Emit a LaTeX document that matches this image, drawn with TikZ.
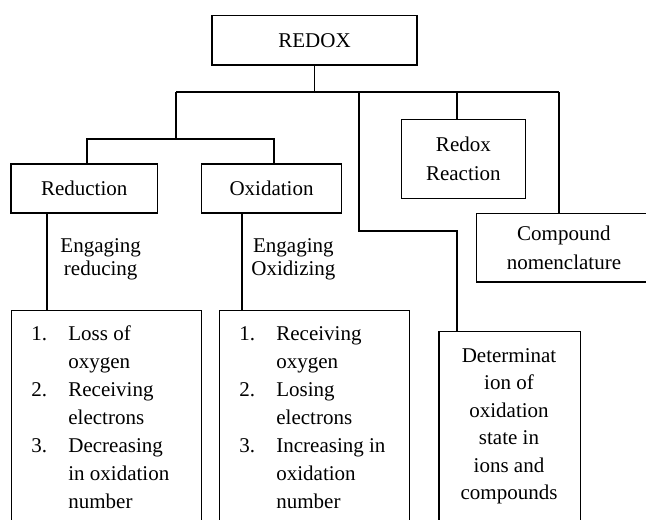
\documentclass[tikz,border=0pt]{standalone}
\usepackage{fontspec}
\setmainfont{Liberation Serif}
\usetikzlibrary{positioning}
\begin{document}
\begin{tikzpicture}[
    x=0.5pt, y=-0.5pt,
    box/.style={rectangle, draw, line width=0.6pt, align=center, inner sep=0pt, font=\fontsize{10.5}{14.3}\selectfont},
    frame/.style={rectangle, draw, line width=0.6pt, inner sep=0pt, anchor=north west},
    listtext/.style={inner sep=0pt, anchor=north west, font=\fontsize{10.5}{14}\selectfont},
    tag/.style={inner sep=0pt, align=center, font=\fontsize{10.5}{11.5}\selectfont},
    link/.style={line width=0.8pt}
]
    \useasboundingbox (0,0) rectangle (646,519);

    \node [box, minimum width=102.5pt, minimum height=24.7pt] (redox) at (314.5,40.3) {REDOX};
    \node [box, minimum width=73.2pt, minimum height=24.5pt] (red) at (84.2,188.5) {Reduction};
    \node [box, minimum width=69.8pt, minimum height=24.5pt] (oxi) at (271.5,188.5) {Oxidation};
    \node [box, minimum width=61.7pt, minimum height=39.7pt] (rxn) at (463.4,159) {Redox\\Reaction};
    \node [box, minimum width=87.2pt, minimum height=34.3pt] (comp) at (563.9,247.7) {Compound\\nomenclature};

    \node [tag] (redtag) at (100.7,259.5) {Engaging\\reducing};
    \node [tag] (oxitag) at (293.4,259.5) {Engaging\\Oxidizing};

    \node [frame, minimum width=95pt, minimum height=110pt] (redlist) at (11,309.5) {};
    \node [frame, minimum width=95pt, minimum height=110pt] (oxilist) at (219,310) {};
    \node [frame, minimum width=70.7pt, minimum height=100pt] (detbox) at (438.3,331) {};

    \node [listtext] (redtext) at (31,320.4) {\begin{tabular}{@{}p{18.5pt}@{}l@{}}
        1. & Loss of\\ & oxygen\\
        2. & Receiving\\ & electrons\\
        3. & Decreasing\\ & in oxidation\\ & number
    \end{tabular}};
    \node [listtext] (oxitext) at (239,320.4) {\begin{tabular}{@{}p{18.5pt}@{}l@{}}
        1. & Receiving\\ & oxygen\\
        2. & Losing\\ & electrons\\
        3. & Increasing in\\ & oxidation\\ & number
    \end{tabular}};
    \node [listtext, anchor=north, font=\fontsize{10.5}{13.75}\selectfont] (dettext) at (509,342.8) {\begin{tabular}{@{}c@{}}
        Determinat\\ ion of\\ oxidation\\ state in\\ ions and\\ compounds
    \end{tabular}};

    \coordinate (b1) at (176,92);
    \coordinate (b2) at (359,92);
    \coordinate (b3) at (457,92);
    \coordinate (b4) at (559,92);
    \coordinate (sub) at (176,139);
    \coordinate (jog) at (457,231);
    \coordinate (s1) at ([xshift=18pt]redlist.north west);
    \coordinate (s2) at ([xshift=11.35pt]oxilist.north west);

    \draw [link] (redox.south) -- (redox.south |- b1);
    \draw [link] (b1) -- (b4);
    \draw [link] (b1) -- (sub);
    \draw [link] ([xshift=1.4pt]red.north) |- (sub) -| ([xshift=1.25pt]oxi.north);
    \draw [link] (b3) -- (b3 |- rxn.north);
    \draw [link] (b4) -- (b4 |- comp.north);
    \draw [link] (b2) |- (jog) -- (jog |- detbox.north);
    \draw [link] (s1) -- (s1 |- red.south);
    \draw [link] (s2) -- (s2 |- oxi.south);
\end{tikzpicture}
\end{document}
